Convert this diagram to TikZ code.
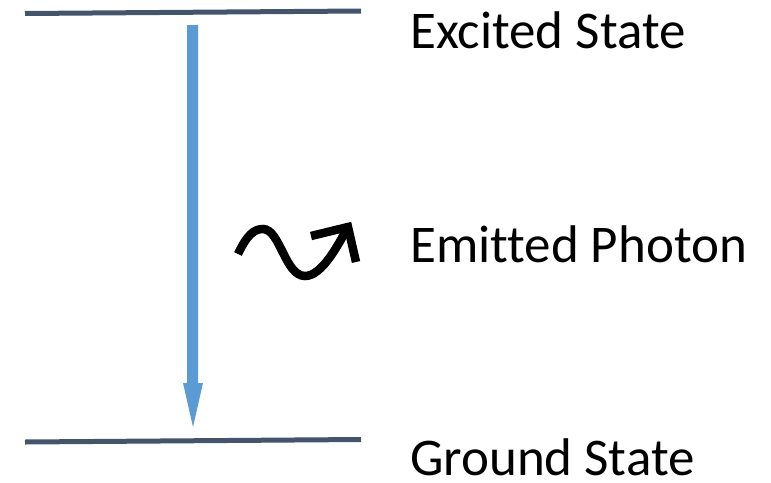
\documentclass[tikz,border=0pt]{standalone}
\usepackage{fontspec}
\setmainfont{Carlito}[Ligatures=NoCommon]
\definecolor{levelc}{HTML}{44546A}
\definecolor{arrowc}{HTML}{5B9BD5}
\tikzset{
  level/.style={draw=levelc, line width=5pt},
  label/.style={anchor=base west, inner sep=0pt, font=\fontsize{53}{60}\selectfont},
  photon/.style={draw=black, line width=8.5pt},
}
\begin{document}
\begin{tikzpicture}[x=1pt,y=-1pt]
\useasboundingbox (0,0) rectangle (771,482);
% energy levels
\coordinate (e1) at (25,13.5);
\coordinate (e2) at (361,11);
\coordinate (g1) at (25,442);
\coordinate (g2) at (361,439.5);
\draw[level] (e1) -- (e2);
\draw[level] (g1) -- (g2);
% transition arrow
\fill[arrowc] (187,25) -- (198,25) -- (198,383) -- (203,383) -- (193,427) -- (183,383) -- (187,383) -- cycle;
% photon
\coordinate (p0) at (238,254);
\coordinate (p1) at (263,229);
\coordinate (p2) at (305,276);
\coordinate (tip) at (348,227);
\draw[photon] (p0) .. controls (247,235) and (254,229) .. (p1)
  .. controls (280,229) and (285,276) .. (p2)
  .. controls (322,276) and (338,245) .. (tip);
\draw[photon, miter limit=10] (311,236) -- (tip) -- (356,262);
% labels
\node[label] (ex) at (410,48) {Excited State};
\node[label] (em) at (410,262) {Emitted Photon};
\node[label] (gr) at (410,475) {Ground State};
\end{tikzpicture}
\end{document}
